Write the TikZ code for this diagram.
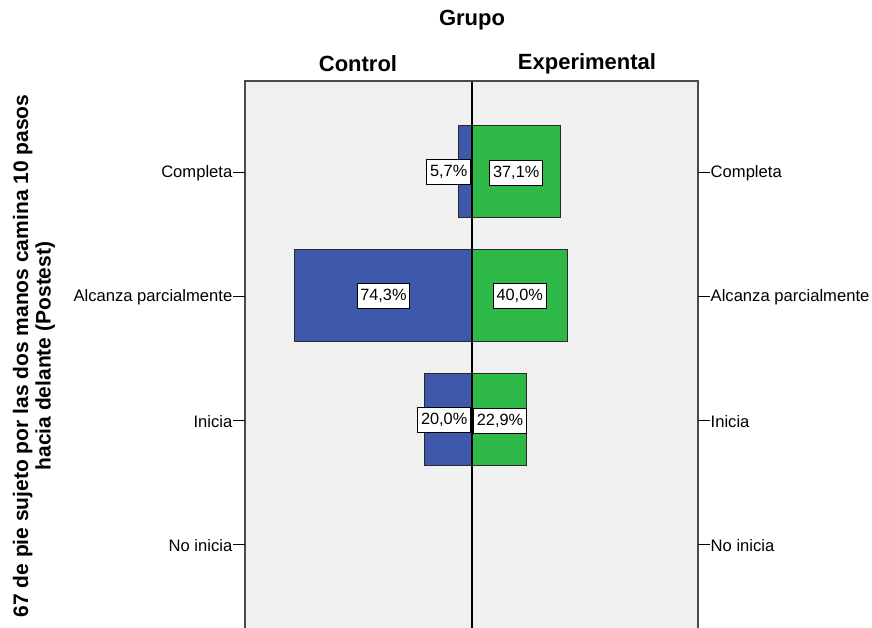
\documentclass[tikz,border=0pt]{standalone}
\usepackage{fontspec}
\setmainfont{Liberation Sans}
\definecolor{panelbg}{HTML}{F0F0F0}
\definecolor{ctrlblue}{HTML}{3E58AC}
\definecolor{expgreen}{HTML}{2EB848}
\definecolor{framegray}{HTML}{4A4A4A}
\definecolor{bargray}{HTML}{2A2A2A}
\tikzset{
  headtext/.style={font=\fontsize{22}{24}\selectfont\bfseries, inner sep=0pt},
  cattext/.style={font=\fontsize{16.6}{18}\selectfont, inner sep=0pt},
  pctbox/.style={draw=black, fill=white, line width=0.9pt, font=\fontsize{16.3}{18}\selectfont,
                 inner xsep=3.3pt, inner ysep=0pt, minimum height=25pt},
  ctrlbar/.style={fill=ctrlblue, draw=bargray, line width=1pt},
  expbar/.style={fill=expgreen, draw=bargray, line width=1pt},
  tick/.style={draw=black, line width=1pt},
}
\begin{document}
\begin{tikzpicture}[x=1pt, y=-1pt]
\useasboundingbox (0,0) rectangle (872,627);
\fill[white] (0,0) rectangle (872,627);

% panel and bars (scale: 2.385 px per percent, bars 92 px high)
\begin{scope}
\clip (0,0) rectangle (872,627);
\fill[panelbg] (245,81) rectangle (698,640);

\draw[ctrlbar] (458.4,125.5) rectangle (472,217.5);
\draw[expbar]  (472,125.5) rectangle (560.5,217.5);
\draw[ctrlbar] (294.8,249) rectangle (472,341);
\draw[expbar]  (472,249) rectangle (567.4,341);
\draw[ctrlbar] (424.3,373) rectangle (472,465);
\draw[expbar]  (472,373) rectangle (526.6,465);

\draw[black, line width=1.2pt] (472,81) -- (472,640);
\draw[framegray, line width=1.8pt] (245,640) -- (245,81) -- (698,81) -- (698,640);
\end{scope}

% percentage labels
\node[pctbox, anchor=east] (c1) at (471,172) {5,7\%};
\node[pctbox] (e1) at (516.2,172.5) {37,1\%};
\node[pctbox] (c2) at (383.4,296) {74,3\%};
\node[pctbox] (e2) at (519.7,296) {40,0\%};
\node[pctbox, anchor=east] (c3) at (471,420) {20,0\%};
\node[pctbox] (e3) at (500,420.5) {22,9\%};

% category axes with ticks
\foreach \lab/\yy [count=\i] in {Completa/172, Alcanza parcialmente/296, Inicia/420, No inicia/544} {
  \coordinate (la\i) at (245,\yy);
  \coordinate (lt\i) at (233,\yy);
  \coordinate (ra\i) at (698,\yy);
  \coordinate (rt\i) at (710,\yy);
  \draw[tick] (la\i) -- (lt\i);
  \draw[tick] (ra\i) -- (rt\i);
  \node[cattext, anchor=east] (ll\i) at ([xshift=-0.5pt, yshift=-1.5pt]lt\i) {\lab};
  \node[cattext, anchor=west] (rl\i) at ([xshift=0.5pt, yshift=-1.5pt]rt\i) {\lab};
}

% titles
\node[headtext] (grupo) at (472,20) {Grupo};
\node[headtext] (ctrl) at (358,64) {Control};
\node[headtext] (expe) at (587,64) {Experimental};

\node[font=\fontsize{21}{22.5}\selectfont\bfseries, rotate=90, align=center, inner sep=0pt]
  (ytitle) at (34,356) {67 de pie sujeto por las dos manos camina 10 pasos\\hacia delante (Postest)};
\end{tikzpicture}
\end{document}
